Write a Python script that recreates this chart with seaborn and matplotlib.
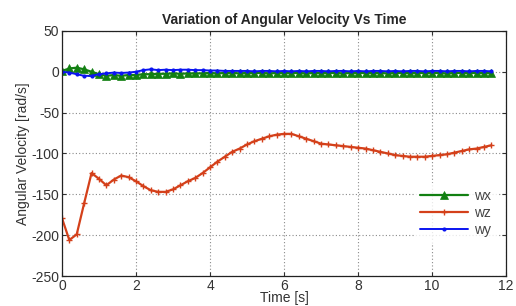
import numpy as np
import pandas as pd
import matplotlib
matplotlib.use("Agg")
import matplotlib.pyplot as plt
import seaborn as sns

# time samples every 0.2 s
time = [round(0.2 * i, 1) for i in range(59)]

wz = [-179, -206, -199, -161, -124, -131, -139, -132, -127, -129,
      -134, -140, -145, -147, -147, -144, -139, -134, -130, -124,
      -117, -110, -104, -98, -94, -89, -85, -82, -79, -77,
      -76, -76, -79, -82, -85, -88, -89, -90, -91, -92,
      -93, -94, -96, -98, -100, -102, -103, -104, -104, -104,
      -103, -102, -101, -99, -97, -95, -94, -92, -90]

wx = [1, 4, 5, 3, 0, -3, -5, -4, -5, -4,
      -4, -3, -3, -2.5, -2.5, -2, -2.5, -2, -2, -2,
      -1.5, -2, -1.5, -1.5, -2, -1.5, -1.5, -1.5, -2, -1.5,
      -1.5, -1.5, -1.5, -2, -1.5, -1.5, -1.5, -1.5, -2, -1.5,
      -1.5, -1.5, -1.5, -1.5, -2, -1.5, -1.5, -1.5, -1.5, -1.5,
      -1.5, -1.5, -2, -1.5, -1.5, -1.5, -1.5, -1.5, -1.5]

wy = [0, -1, -3, -5, -5, -3, -2, -1, -1.5, -1,
      0, 2, 3, 2, 2.5, 2, 2.5, 2.5, 2, 2,
      1.5, 1.5, 1, 1, 1, 1, 0.5, 1, 1, 0.5,
      1, 0.5, 1, 0.5, 1, 1, 0.5, 1, 1, 0.5,
      1, 0.5, 1, 1, 0.5, 1, 0.5, 1, 1, 0.5,
      1, 1, 0.5, 1, 1, 0.5, 1, 1, 0.5]

df = pd.DataFrame({"t": time, "wx": wx, "wz": wz, "wy": wy})

sns.set_style("white")
plt.rcParams['font.family'] = ['Liberation Sans', 'DejaVu Sans']
plt.rcParams['axes.unicode_minus'] = False

fig = plt.figure(figsize=(5.16, 3.06), dpi=100)
ax = fig.add_axes([0.120, 0.098, 0.861, 0.801])

cx, cz, cy = "#128012", "#d4401a", "#0a14f0"
sns.lineplot(data=df, x="t", y="wx", ax=ax, color=cx, marker="^",
             markersize=6, markeredgecolor=cx, markeredgewidth=0.5, linewidth=1.6, label="wx")
sns.lineplot(data=df, x="t", y="wz", ax=ax, color=cz, marker="+",
             markersize=4, markeredgecolor=cz, markeredgewidth=1, linewidth=1.6, label="wz")
sns.lineplot(data=df, x="t", y="wy", ax=ax, color=cy, marker="o",
             markersize=3, markeredgecolor=cy, markeredgewidth=0, linewidth=1.4, label="wy")

ax.set_xlim(0, 12)
ax.set_ylim(-250, 50)
ax.set_xticks([0, 2, 4, 6, 8, 10, 12])
ax.set_yticks([50, 0, -50, -100, -150, -200, -250])
ax.grid(True, linestyle=(0, (1, 2)), color="#8a8a8a", linewidth=0.8)
for s in ax.spines.values():
    s.set_color("#222222")
    s.set_linewidth(0.9)
ax.tick_params(axis="both", labelsize=10, colors="#333333", direction="in", length=3,
               top=True, right=True, bottom=True, left=True, pad=2)

ax.set_title("Variation of Angular Velocity Vs Time", fontsize=10, fontweight="bold", pad=5)
ax.set_xlabel("Time [s]", fontsize=10, color="#333333", labelpad=-1)
ax.set_ylabel("Angular Velocity [rad/s]", fontsize=10, color="#333333", labelpad=1)

leg = ax.legend(loc="lower right", bbox_to_anchor=(0.995, 0.11), frameon=True,
                fontsize=10, handlelength=3.4, labelspacing=0.2, borderpad=0.4,
                handletextpad=0.5, fancybox=False)
leg.get_frame().set_edgecolor("white")
leg.get_frame().set_facecolor("white")
for txt in leg.get_texts():
    txt.set_color("#444444")

fig.savefig("out.png", dpi=100)
